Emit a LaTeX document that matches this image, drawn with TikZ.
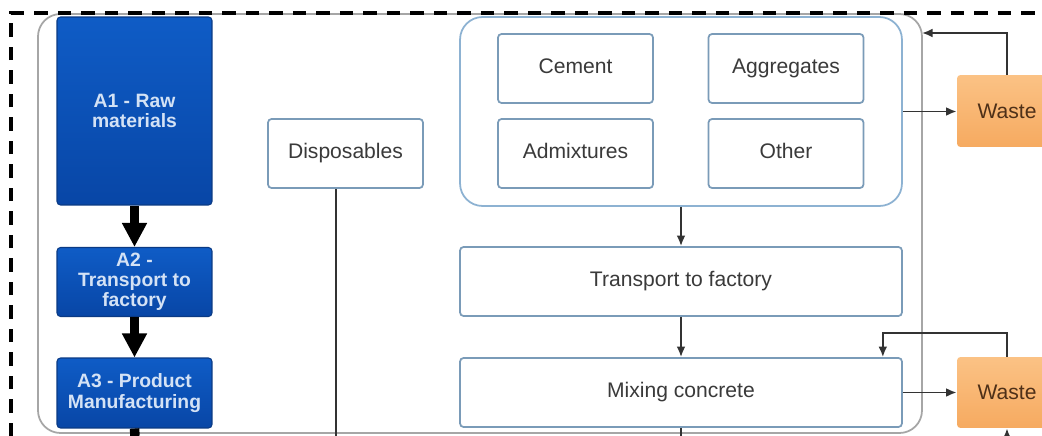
\documentclass[tikz,border=0pt]{standalone}
\usepackage{fontspec}
\setmainfont{Liberation Sans}
\usetikzlibrary{arrows.meta}
\definecolor{boxline}{HTML}{7A9BB8}
\definecolor{boxtext}{HTML}{3A3A3A}
\definecolor{grpline}{HTML}{8DB2D2}
\definecolor{stagetop}{HTML}{0F5CC6}
\definecolor{stagebot}{HTML}{0846A6}
\definecolor{stageline}{HTML}{0A3A84}
\definecolor{stagetext}{HTML}{D4E2F5}
\definecolor{wastetop}{HTML}{FBC285}
\definecolor{wastebot}{HTML}{F6AA60}
\definecolor{wastetext}{HTML}{4E3018}
\definecolor{linkgray}{HTML}{333333}
\begin{document}
\begin{tikzpicture}[x=0.02cm, y=-0.02cm,
        stage/.style={draw=stageline, line width=0.6pt, top color=stagetop, bottom color=stagebot,
            rounded corners=2pt, text=stagetext, font=\bfseries\fontsize{11}{11.5}\selectfont,
            align=center, minimum width=3.1cm, inner sep=0pt},
        part/.style={draw=boxline, line width=1pt, fill=white, rounded corners=2pt, text=boxtext,
            font=\fontsize{12}{14}\selectfont, text height=0.72em, text depth=0.2em,
            minimum width=3.1cm, minimum height=1.38cm, inner sep=0pt},
        wide/.style={part, minimum width=8.84cm},
        group/.style={draw=grpline, line width=1pt, rounded corners=0.45cm,
            minimum width=8.84cm, minimum height=3.78cm, inner sep=0pt},
        waste/.style={top color=wastetop, bottom color=wastebot, rounded corners=2pt, text=wastetext,
            font=\fontsize{12}{14}\selectfont, minimum width=2cm, inner sep=0pt},
        link/.style={draw=linkgray, line width=1.05pt, -{Latex[length=6pt,width=5pt]}},
        plain/.style={draw=linkgray, line width=1.05pt},
        bigarrow/.style={line width=0.19cm, -{Triangle[length=0.48cm,width=0.47cm]}}]
    \useasboundingbox (0,0) rectangle (1042,436);
    % outer frame
    \draw[color=black!35, line width=1pt, rounded corners=0.45cm, fill=white] (38,14) rectangle (922,433);
    \draw[line width=1.8pt, dash pattern=on 0.27cm off 0.2cm] (11,436) -- (11,13) -- (1042,13);

    % life cycle stages
    \node[stage, minimum height=3.76cm] (rawmat) at (134.5,111) {A1 - Raw\\materials};
    \node[stage, minimum height=1.38cm] (transp) at (134.5,282) {A2 -\\Transport to\\factory};
    \node[stage, minimum height=1.4cm] (manuf) at (134.5,393) {A3 - Product\\Manufacturing};

    \node[part] (dispos) at (345.5,153.5) {Disposables};

    % materials
    \node[group] (inputs) at (681,111.5) {};
    \node[part] (cement) at (575.5,68.5) {Cement};
    \node[part] (aggreg) at (786,68.5) {Aggregates};
    \node[part] (admix) at (575.5,153.5) {Admixtures};
    \node[part] (other) at (786,153.5) {Other};

    \node[wide] (tofact) at (681,281.5) {Transport to factory};
    \node[wide] (mixing) at (681,392.5) {Mixing concrete};

    \node[waste, minimum height=1.44cm] (wasteA) at (1007,111) {Waste};
    \node[waste, minimum height=1.42cm] (wasteB) at (1007,392.5) {Waste};

    \coordinate (backA) at (922,33);
    \coordinate (endA) at (135,436);
    \coordinate (endD) at (336,436);
    \coordinate (endM) at (681,436);
    \coordinate (endW) at (1007,436);

    % connectors
    \draw[bigarrow] (rawmat) -- (transp);
    \draw[bigarrow] (transp) -- (manuf);
    \draw[line width=0.19cm] (manuf.south) -- (endA);
    \draw[plain] (endD |- dispos.south) -- (endD);
    \draw[link] (inputs.south) -- (tofact.north);
    \draw[link] (tofact.south) -- (mixing.north);
    \draw[plain] (mixing.south) -- (endM);
    \draw[link] (inputs.east) -- (inputs.east -| wasteA.west);
    \draw[link] (wasteA.north) |- (backA);
    \draw[link] (mixing.east) -- (mixing.east -| wasteB.west);
    \draw[link] (wasteB.north) -- ++(0,-24) -| ([xshift=-0.4cm]mixing.north east);
    \draw[link] (endW) -- (wasteB.south);
\end{tikzpicture}
\end{document}
